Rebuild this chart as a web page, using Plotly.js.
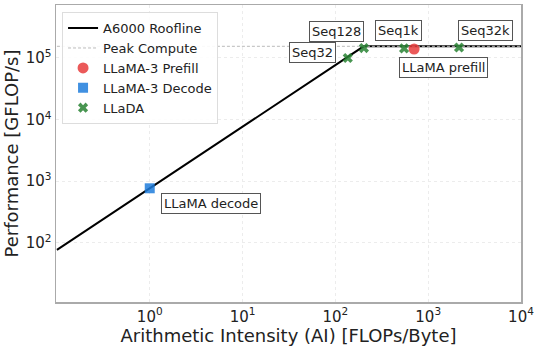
<!DOCTYPE html>
<html>
<head>
<meta charset="utf-8">
<script src="https://cdn.plot.ly/plotly-3.0.1.min.js"></script>
<style>
  html, body { margin: 0; padding: 0; background: #fff; }
  #chart { width: 540px; height: 348px; }
</style>
</head>
<body>
<div id="chart"></div>
<script>
// roofline (A6000)
const rooflineAI = [0.1, 201.6, 10000];
const rooflinePerf = [76.8, 154800, 154800];
const peakAI = [0.1, 10000];
const peakPerf = [154800, 154800];

// measured points
const prefillAI = [705];
const prefillPerf = [140000];
const decodeAI = [1];
const decodePerf = [768];
const lladaAI = [136, 203, 550, 2150];
const lladaPerf = [100000, 145000, 143000, 148000];
const lladaLabels = ['Seq32', 'Seq128', 'Seq1k', 'Seq32k'];

const tickVals = [1, 10, 100, 1000, 10000];
const tickText = ['10<sup>0</sup>', '10<sup>1</sup>', '10<sup>2</sup>', '10<sup>3</sup>', '10<sup>4</sup>'];
const yTickVals = [100, 1000, 10000, 100000];
const yTickText = ['10<sup>2</sup>', '10<sup>3</sup>', '10<sup>4</sup>', '10<sup>5</sup>'];

const font = 'DejaVu Sans, sans-serif';

const traces = [
    {
        x: rooflineAI, y: rooflinePerf, mode: 'lines', name: 'A6000 Roofline',
        line: { color: '#000', width: 2 }
    },
    {
        x: peakAI, y: peakPerf, mode: 'lines', name: 'Peak Compute',
        line: { color: '#bbb', width: 1, dash: '3px,2px' }
    },
    {
        x: prefillAI, y: prefillPerf, mode: 'markers', name: 'LLaMA-3 Prefill',
        marker: { symbol: 'circle', size: 11, color: 'rgba(232,60,60,0.85)' }
    },
    {
        x: decodeAI, y: decodePerf, mode: 'markers', name: 'LLaMA-3 Decode',
        marker: { symbol: 'square', size: 10, color: 'rgba(30,125,220,0.85)' }
    },
    {
        x: lladaAI, y: lladaPerf, mode: 'markers', name: 'LLaDA',
        marker: { symbol: 'x', size: 9, color: 'rgba(40,130,50,0.85)' }
    }
];

// label offsets in pixels: [xshift, yshift]
const lladaShift = [[-35, 5], [-27, 17], [-6, 18], [26, 17]];

const annotations = lladaLabels.map((label, i) => ({
    x: Math.log10(lladaAI[i]), y: Math.log10(lladaPerf[i]),
    text: label, showarrow: false,
    xshift: lladaShift[i][0], yshift: lladaShift[i][1]
}));
annotations.push({
    x: Math.log10(prefillAI[0]), y: Math.log10(prefillPerf[0]),
    text: 'LLaMA prefill', showarrow: false, xshift: 29, yshift: -19
});
annotations.push({
    x: Math.log10(decodeAI[0]), y: Math.log10(decodePerf[0]),
    text: 'LLaMA decode', showarrow: false, xshift: 61, yshift: -15
});
annotations.forEach(a => {
    a.font = { family: font, size: 13, color: '#222' };
    a.bgcolor = '#fff';
    a.bordercolor = '#555';
    a.borderwidth = 1;
    a.borderpad = 2;
});

const axisCommon = {
    type: 'log',
    showline: true, mirror: true, linecolor: '#aaa', linewidth: 1.5,
    showgrid: true, gridcolor: '#ececec', griddash: 'dot', gridwidth: 1,
    zeroline: false, ticks: '',
    tickfont: { family: font, size: 15, color: '#222' }
};

const layout = {
    width: 540, height: 348,
    margin: { l: 56, r: 19, t: 5, b: 46 },
    paper_bgcolor: '#fff', plot_bgcolor: '#fff',
    font: { family: font, color: '#222' },
    xaxis: Object.assign({}, axisCommon, {
        range: [-1.01, 4],
        tickvals: tickVals, ticktext: tickText,
        title: { text: 'Arithmetic Intensity (AI) [FLOPs/Byte]', font: { family: font, size: 18, color: '#222' }, standoff: 0 }
    }),
    yaxis: Object.assign({}, axisCommon, {
        range: [1.04, 5.86],
        tickvals: yTickVals, ticktext: yTickText,
        title: { text: 'Performance [GFLOP/s]', font: { family: font, size: 18, color: '#222' }, standoff: 2 }
    }),
    legend: {
        x: 0.013, y: 0.976, xanchor: 'left', yanchor: 'top',
        bgcolor: 'rgba(255,255,255,0.9)', bordercolor: '#ddd', borderwidth: 1,
        font: { family: font, size: 13, color: '#222' }
    },
    annotations: annotations,
    showlegend: true
};

Plotly.newPlot('chart', traces, layout, { displayModeBar: false, staticPlot: true });
</script>
</body>
</html>
